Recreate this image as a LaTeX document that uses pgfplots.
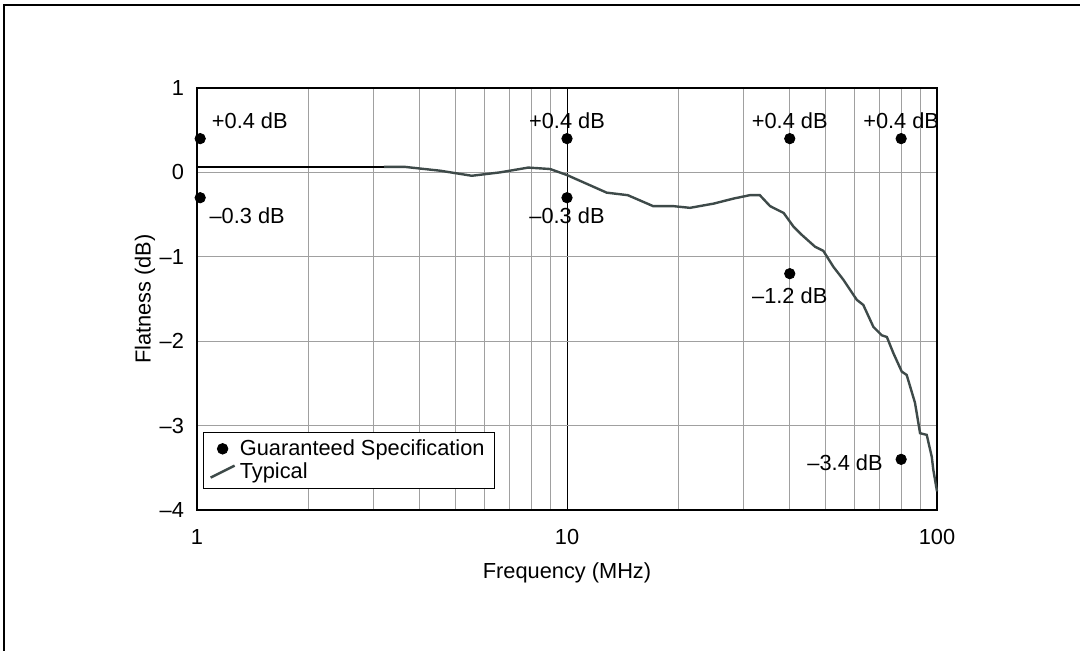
\documentclass[border=0pt]{standalone}
\usepackage{fontspec}
\setmainfont{Liberation Sans}
\usepackage{pgfplots}
\pgfplotsset{compat=1.18}
\definecolor{curve}{HTML}{3E4A49}
\definecolor{gridgray}{HTML}{A0A0A0}
\newcommand{\fs}{\fontsize{10.9}{13}\selectfont}
\begin{document}
\begin{tikzpicture}[font=\fs]
\path[use as bounding box] (0,0) rectangle (540pt,325.5pt);
\begin{axis}[
  at={(98.5pt,70.5pt)}, anchor=south west,
  scale only axis, width=370pt, height=211pt,
  xmode=log, xmin=1, xmax=100, ymin=-4, ymax=1,
  log basis x=10,
  xtick={1,10,100}, xticklabels={1,10,100},
  ytick={-4,-3,-2,-1,0,1},
  yticklabels={\textendash4,\textendash3,\textendash2,\textendash1,0,1},
  minor xtick={2,3,4,5,6,7,8,9,20,30,40,50,60,70,80,90},
  grid=both,
  major grid style={gridgray, line width=0.5pt},
  minor grid style={gridgray, line width=0.5pt},
  major x grid style={black, line width=0.5pt},
  major tick length=0pt, minor tick length=0pt,
  axis line style={black, line width=0.75pt},
  tick label style={font=\fs},
  xticklabel style={yshift=-6pt},
  yticklabel style={xshift=-3pt},
  label style={font=\fs},
  xlabel={Frequency (MHz)}, ylabel={Flatness (dB)},
  every axis x label/.style={at={(axis description cs:0.5,-0.149)}, anchor=center},
  every axis y label/.style={at={(axis description cs:-0.0703,0.5)}, rotate=90, anchor=center},
  legend style={at={(rel axis cs:0.008,0.185)}, anchor=north west, draw=black, fill=white,
    font=\fs, line width=0.5pt, inner xsep=3pt, inner ysep=1.5pt, row sep=-2pt,
    /tikz/column 2/.style={column sep=2pt}},
  legend cell align=left,
  clip=false,
]
\addplot[only marks, mark=*, mark size=2.6pt, black,
  legend image code/.code={\fill[black] (6pt,0pt) circle (2.6pt);}] coordinates {
  (1.02,0.4) (1.02,-0.3) (10,0.4) (10,-0.3) (40,0.4) (40,-1.2) (80,0.4) (80,-3.4)
};
\addlegendentry{Guaranteed Specification}
\addplot[curve, line width=1.2pt, legend image code/.code={\draw[curve, line width=1.2pt] (0pt,-3pt) -- (12pt,3pt);}] coordinates {
  (3.2,0.065) (3.65,0.065) (4.54,0.02) (5.53,-0.04) (6.59,0.0) (7.86,0.057) (9.0,0.04) (9.98,-0.03)
  (12.8,-0.24) (14.6,-0.27) (17.1,-0.40) (19.4,-0.40) (21.5,-0.42) (24.9,-0.37) (28.2,-0.31)
  (31.2,-0.27) (33.2,-0.27) (35.4,-0.40) (38.5,-0.48) (40.9,-0.64) (43.1,-0.74) (46.8,-0.88)
  (49.3,-0.93) (52.5,-1.12) (55.8,-1.27) (60.7,-1.51) (63.2,-1.57) (67.3,-1.83) (70.9,-1.93)
  (73.2,-1.95) (76.2,-2.14) (80.3,-2.36) (82.8,-2.40) (87.2,-2.73) (90.0,-3.09) (93.8,-3.11)
  (96.8,-3.37) (97.7,-3.52) (100,-3.78)
};
\addlegendentry{Typical}
\addplot[black, line width=1.2pt, forget plot] coordinates {(1,0.062) (3.2,0.062)};
\node[anchor=west] at (axis cs:1.05,0.61) {+0.4 dB};
\node[anchor=west] at (axis cs:1.035,-0.515) {\textendash0.3 dB};
\node at (axis cs:10,0.61) {+0.4 dB};
\node at (axis cs:10,-0.515) {\textendash0.3 dB};
\node at (axis cs:40,0.61) {+0.4 dB};
\node at (axis cs:40,-1.46) {\textendash1.2 dB};
\node at (axis cs:80,0.61) {+0.4 dB};
\node[anchor=east] at (axis cs:74.5,-3.44) {\textendash3.4 dB};
\end{axis}
\draw[line width=1pt, black] (1.75pt,-5pt) -- (1.75pt,323pt) -- (545pt,323pt);
\end{tikzpicture}
\end{document}
